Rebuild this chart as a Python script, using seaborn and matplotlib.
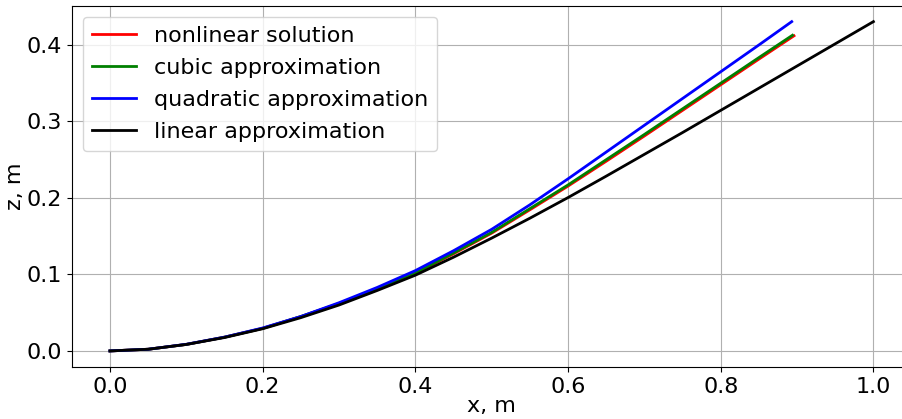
import matplotlib
matplotlib.use("Agg")
import matplotlib.pyplot as plt
import seaborn as sns
import pandas as pd

# Beam deflection profiles: horizontal position x and vertical position z (metres)
x_nonlinear = [0.0, 0.05, 0.1, 0.15, 0.2, 0.25, 0.3, 0.35, 0.4, 0.45, 0.5, 0.55,
               0.6, 0.65, 0.7, 0.75, 0.8, 0.85, 0.896]
z_nonlinear = [0.0, 0.0022, 0.0085, 0.018, 0.0295, 0.0448, 0.0618, 0.0805, 0.1015,
               0.127, 0.154, 0.1845, 0.2155, 0.248, 0.281, 0.3145, 0.348, 0.3815, 0.412]

x_cubic = [0.0, 0.05, 0.1, 0.15, 0.2, 0.25, 0.3, 0.35, 0.4, 0.45, 0.5, 0.55,
           0.6, 0.65, 0.7, 0.75, 0.8, 0.85, 0.894]
z_cubic = [0.0, 0.0022, 0.0085, 0.018, 0.0295, 0.045, 0.062, 0.081, 0.102,
           0.128, 0.155, 0.186, 0.217, 0.250, 0.283, 0.3165, 0.350, 0.3835, 0.4127]

x_quadratic = [0.0, 0.05, 0.1, 0.15, 0.2, 0.25, 0.3, 0.35, 0.4, 0.45, 0.5, 0.55,
               0.6, 0.65, 0.7, 0.75, 0.8, 0.85, 0.893]
z_quadratic = [0.0, 0.0022, 0.0087, 0.018, 0.030, 0.045, 0.063, 0.083, 0.105,
               0.131, 0.159, 0.191, 0.225, 0.260, 0.295, 0.330, 0.365, 0.400, 0.4305]

x_linear = [0.0, 0.05, 0.1, 0.15, 0.2, 0.25, 0.3, 0.35, 0.4, 0.45, 0.5, 0.55,
            0.6, 0.65, 0.7, 0.75, 0.8, 0.85, 0.9, 0.95, 1.0]
z_linear = [0.0, 0.0022, 0.0085, 0.0175, 0.029, 0.0435, 0.060, 0.079, 0.099,
            0.1225, 0.1475, 0.1735, 0.2005, 0.2285, 0.257, 0.2855, 0.3145,
            0.3435, 0.3725, 0.4015, 0.4305]

labels = ["nonlinear solution", "cubic approximation",
          "quadratic approximation", "linear approximation"]
colors = ["red", "green", "blue", "black"]

frames = []
for lab, xs, zs in zip(labels,
                       [x_nonlinear, x_cubic, x_quadratic, x_linear],
                       [z_nonlinear, z_cubic, z_quadratic, z_linear]):
    frames.append(pd.DataFrame({"x": xs, "z": zs, "model": lab}))
df = pd.concat(frames, ignore_index=True)

plt.rcParams["font.family"] = ["DejaVu Sans"]
fs = 16

fig = plt.figure(figsize=(9.03, 4.19), dpi=100)
ax = fig.add_axes([0.0795, 0.1232, 0.930, 0.8635])

sns.lineplot(data=df, x="x", y="z", hue="model", hue_order=labels,
             palette=dict(zip(labels, colors)), estimator=None, sort=False,
             linewidth=2.0, ax=ax)

ax.set_xlim(-0.05, 1.05)
ax.set_ylim(-0.0215, 0.4515)
ax.set_xticks([0.0, 0.2, 0.4, 0.6, 0.8, 1.0])
ax.set_yticks([0.0, 0.1, 0.2, 0.3, 0.4])
ax.grid(True, color="#b0b0b0", linewidth=0.8)
ax.set_axisbelow(True)
ax.tick_params(labelsize=fs)
ax.set_xlabel("x, m", fontsize=fs, labelpad=-1)
ax.set_ylabel("z, m", fontsize=fs, labelpad=1)

leg = ax.legend(loc="upper left", fontsize=fs, framealpha=0.8,
                labelspacing=0.55)
leg.set_title(None)

fig.savefig("out.png", dpi=100)
